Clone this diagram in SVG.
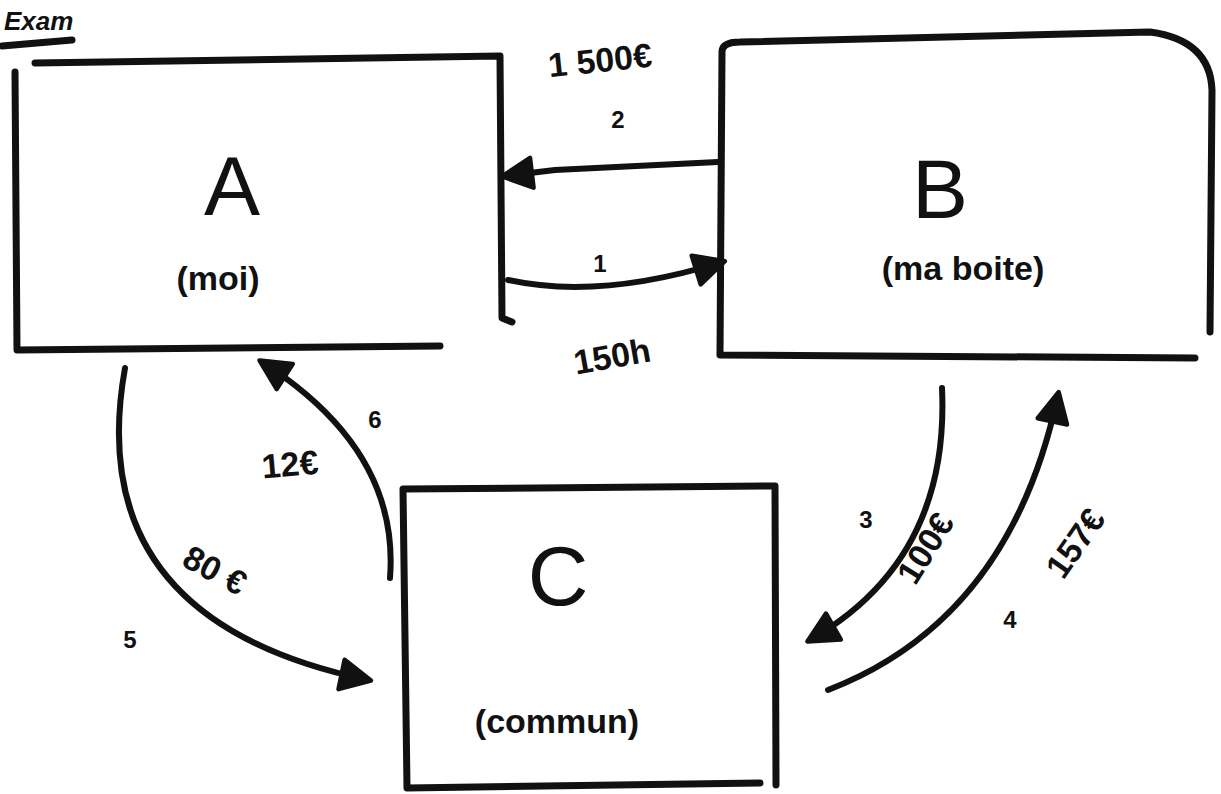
<svg xmlns="http://www.w3.org/2000/svg" width="1221" height="794" viewBox="0 0 1221 794">
<style>
.box{fill:none;stroke:#111;stroke-width:7;stroke-linecap:round;stroke-linejoin:round}
.con{fill:none;stroke:#111;stroke-width:6;stroke-linecap:round}
.t{font-family:"Liberation Sans",Arial,sans-serif;fill:#111;font-weight:bold}
.big{font-size:84px;font-weight:normal}
.sub{font-size:34px}
.lbl{font-size:34px}
.num{font-size:24px}
</style>
<defs>
<marker id="ah" viewBox="0 0 12 12" refX="10" refY="6" markerWidth="6" markerHeight="6" orient="auto" markerUnits="strokeWidth">
<path d="M1,1 L11,6 L1,11 Z" fill="#111" stroke="#111" stroke-width="1.5" stroke-linejoin="round"/>
</marker>
</defs>
<rect width="1221" height="794" fill="#fff"/>
<g id="title">
<text class="t" x="4" y="30" font-size="26" font-style="italic">Exam</text>
<path class="box" d="M2,46 L72,40" stroke-width="5"/>
</g>
<g id="nodeA">
<path class="box" d="M35,63 L500,56 M15,72 L17,350 L440,346 M500,56 L502,318 L512,322"/>
<text class="t big" x="232" y="215" text-anchor="middle">A</text>
<text class="t sub" x="218" y="290" text-anchor="middle">(moi)</text>
</g>
<g id="nodeB">
<path class="box" d="M722,52 Q722,42 740,42 L1150,32 Q1210,40 1212,90 L1210,332 M722,52 L720,355 L1195,358"/>
<text class="t big" x="940" y="218" text-anchor="middle">B</text>
<text class="t sub" x="963" y="280" text-anchor="middle">(ma boite)</text>
</g>
<g id="nodeC">
<path class="box" d="M403,489 L775,486 L776,785 M403,489 L407,788 L760,783"/>
<text class="t big" x="558" y="605" text-anchor="middle">C</text>
<text class="t sub" x="557" y="733" text-anchor="middle">(commun)</text>
</g>
<g id="connectors">
<path class="con" d="M718,162 L555,170 L505,176" stroke-width="9" marker-end="url(#ah)"/>
<path class="con" d="M508,280 Q600,300 722,262" marker-end="url(#ah)"/>
<path class="con" d="M942,388 Q950,560 810,640" marker-end="url(#ah)"/>
<path class="con" d="M828,690 Q1010,620 1058,395" marker-end="url(#ah)"/>
<path class="con" d="M125,368 Q80,620 368,680" marker-end="url(#ah)"/>
<path class="con" d="M390,578 Q400,450 262,362" marker-end="url(#ah)"/>
</g>
<g id="labels">
<text class="t lbl" x="600" y="72" text-anchor="middle" transform="rotate(-6 600 60)">1 500€</text>
<text class="t num" x="618" y="128" text-anchor="middle">2</text>
<text class="t num" x="600" y="272" text-anchor="middle">1</text>
<text class="t lbl" x="612" y="368" text-anchor="middle" transform="rotate(-10 612 356)">150h</text>
<text class="t num" x="866" y="528" text-anchor="middle">3</text>
<text class="t lbl" x="925" y="560" text-anchor="middle" transform="rotate(-58 925 548)">100€</text>
<text class="t lbl" x="1075" y="555" text-anchor="middle" transform="rotate(-55 1075 543)">157€</text>
<text class="t num" x="1010" y="628" text-anchor="middle">4</text>
<text class="t lbl" x="215" y="582" text-anchor="middle" transform="rotate(28 215 570)">80 €</text>
<text class="t num" x="130" y="648" text-anchor="middle">5</text>
<text class="t lbl" x="290" y="476" text-anchor="middle" transform="rotate(-5 290 464)">12€</text>
<text class="t num" x="375" y="428" text-anchor="middle">6</text>
</g>
</svg>
